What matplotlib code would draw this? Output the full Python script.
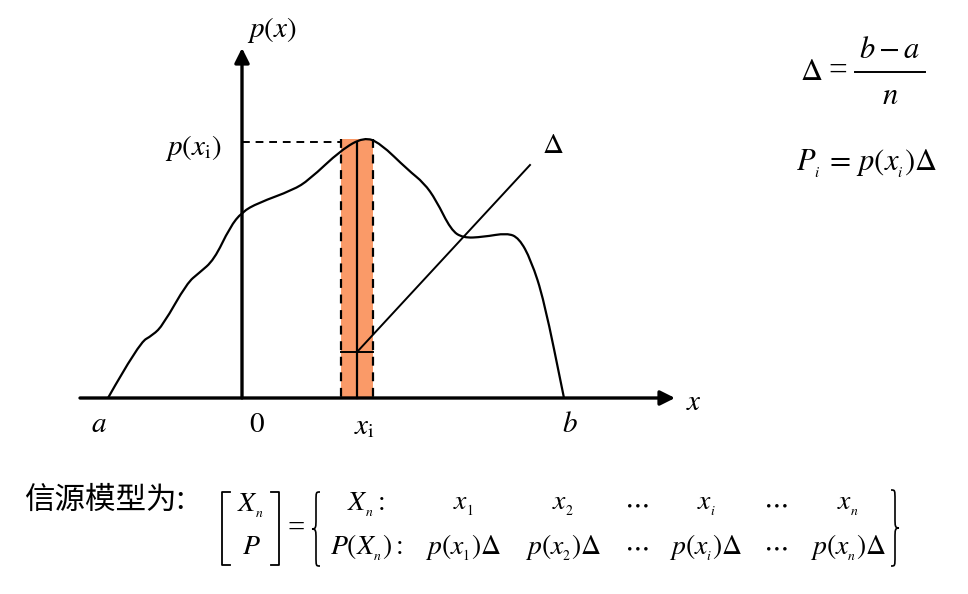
import matplotlib
matplotlib.use("Agg")
import matplotlib.pyplot as plt
from matplotlib.path import Path
from matplotlib.patches import PathPatch, Rectangle

plt.rcParams['mathtext.fontset'] = 'stix'
plt.rcParams['font.family'] = ['Liberation Serif', 'DejaVu Sans']

# density curve (pixel coords, y downwards)
curve_x = [108, 139, 153, 163, 187, 199, 214, 230, 242, 258, 293, 309, 341, 364,
           380, 408, 424, 436, 451, 463, 483, 507, 519, 531, 544, 564]
curve_y = [398, 343, 335, 325, 283, 273, 260, 227, 212, 203, 190, 180, 150, 137,
           143, 170, 183, 200, 230, 238, 237, 233, 238, 260, 300, 398]

# axis positions
x_axis = (80, 675, 398)      # x start, x end (tip), y
y_axis = (242, 398, 48)      # x, y start, y end (tip)

# the strip around x_i
strip_left, strip_right, strip_top = 341, 373, 139
xi_pos, pxi_level, delta_level = 357, 142, 352
delta_line_end = (530, 165)

labels = [
    (r'$p(x)$', 272, 30, 21),
    (r'$p(x_{\mathrm{i}})$', 193, 148, 21),
    (r'$a$', 99, 425, 21),
    (r'$0$', 257, 425, 21),
    (r'$x_{\mathrm{i}}$', 364, 427, 21),
    (r'$b$', 570, 425, 21),
    (r'$x$', 694, 403, 21),
    (r'$\Delta$', 553, 146, 21),
]

row1 = [r'$X_{_n}:$', r'$x_{_1}$', r'$x_{_2}$', r'$\cdots$', r'$x_{_i}$', r'$\cdots$', r'$x_{_n}$']
row2 = [r'$P(X_{_n}):$', r'$p(x_{_1})\Delta$', r'$p(x_{_2})\Delta$', r'$\cdots$',
        r'$p(x_{_i})\Delta$', r'$\cdots$', r'$p(x_{_n})\Delta$']
col_x = [366, 463, 563, 636, 706, 775, 848]


def brace(ax, x, y0, y1, w, right=False):
    # curly brace drawn as a path; w is the reach of the tip / ends
    s = 1 if right else -1
    ym = (y0 + y1) / 2
    xe = x - s * w      # ends
    xt = x + s * w      # middle tip
    verts = [(xe, y0),
             (x, y0), (x, y0), (x, y0 + 10),
             (x, ym - 10),
             (x, ym - 2), (x, ym), (xt, ym),
             (x, ym), (x, ym + 2), (x, ym + 10),
             (x, y1 - 10),
             (x, y1), (x, y1), (xe, y1)]
    codes = [Path.MOVETO,
             Path.CURVE4, Path.CURVE4, Path.CURVE4,
             Path.LINETO,
             Path.CURVE4, Path.CURVE4, Path.CURVE4,
             Path.CURVE4, Path.CURVE4, Path.CURVE4,
             Path.LINETO,
             Path.CURVE4, Path.CURVE4, Path.CURVE4]
    ax.add_patch(PathPatch(Path(verts, codes), facecolor='none', edgecolor='black', lw=1.2))


fig = plt.figure(figsize=(9.68, 5.94), dpi=100)
ax = fig.add_axes([0, 0, 1, 1])
ax.set_xlim(0, 968)
ax.set_ylim(594, 0)
ax.axis('off')

# orange strip
ax.add_patch(Rectangle((strip_left, strip_top), strip_right - strip_left, x_axis[2] - strip_top,
                       facecolor='#FA9A68', edgecolor='none', zorder=1))
ax.plot([strip_left, strip_left], [strip_top, x_axis[2]], color='black', lw=1.6, ls=(0, (4, 3)), zorder=2)
ax.plot([strip_right, strip_right], [strip_top, x_axis[2]], color='black', lw=1.6, ls=(0, (4, 3)), zorder=2)
ax.plot([xi_pos, xi_pos], [pxi_level, x_axis[2]], color='black', lw=1.6, zorder=2)
ax.plot([y_axis[0], strip_left], [pxi_level, pxi_level], color='black', lw=1.4, ls=(0, (4, 3)), zorder=2)
ax.plot([strip_left, strip_right], [delta_level, delta_level], color='black', lw=1.4, zorder=2)
ax.plot([xi_pos, delta_line_end[0]], [delta_level, delta_line_end[1]], color='black', lw=1.4, zorder=2)

# smooth curve through read points (quadratic bezier via midpoints)
verts = [(curve_x[0], curve_y[0])]
codes = [Path.MOVETO]
for i in range(1, len(curve_x) - 1):
    mx = (curve_x[i] + curve_x[i + 1]) / 2
    my = (curve_y[i] + curve_y[i + 1]) / 2
    verts += [(curve_x[i], curve_y[i]), (mx, my)]
    codes += [Path.CURVE3, Path.CURVE3]
verts.append((curve_x[-1], curve_y[-1]))
codes.append(Path.LINETO)
ax.add_patch(PathPatch(Path(verts, codes), facecolor='none', edgecolor='black', lw=1.6, zorder=3))

# axes with arrows
ax.annotate('', xy=(x_axis[1], x_axis[2]), xytext=(x_axis[0], x_axis[2]),
            arrowprops=dict(arrowstyle='-|>', lw=2.4, color='black', mutation_scale=22, shrinkA=0, shrinkB=0), zorder=4)
ax.annotate('', xy=(y_axis[0], y_axis[2]), xytext=(y_axis[0], y_axis[1]),
            arrowprops=dict(arrowstyle='-|>', lw=2.4, color='black', mutation_scale=22, shrinkA=0, shrinkB=0), zorder=4)

for txt, x, y, fs in labels:
    ax.text(x, y, txt, fontsize=fs, ha='center', va='center')

# formulas on the right
ax.text(811, 72, r'$\Delta$', fontsize=22, ha='center', va='center')
ax.text(838, 71, '=', fontsize=24, ha='center', va='center')
ax.plot([855, 925], [72, 72], color='black', lw=1.4)
ax.text(890, 50, r'$b-a$', fontsize=22, ha='center', va='center')
ax.text(890, 97, r'$n$', fontsize=22, ha='center', va='center')
ax.text(867, 164, r'$P_{_i}\,=\,p(x_{_i})\Delta$', fontsize=22, ha='center', va='center')

# source model
ax.text(24, 500, '信源模型为:', fontsize=22, ha='left', va='center',
        family=['Noto Sans CJK SC', 'DejaVu Sans'])

ax.plot([230, 222, 222, 230], [492, 492, 565, 565], color='black', lw=1.3)
ax.plot([271, 279, 279, 271], [492, 492, 565, 565], color='black', lw=1.3)
ax.text(250, 506, r'$X_{_n}$', fontsize=20, ha='center', va='center')
ax.text(251, 548, r'$P$', fontsize=20, ha='center', va='center')
ax.text(296, 529, '=', fontsize=22, ha='center', va='center')
brace(ax, 316, 492, 566, 4)
brace(ax, 895, 490, 566, 4, right=True)

for t, x in zip(row1, col_x):
    ax.text(x, 505, t, fontsize=20, ha='center', va='center')
for t, x in zip(row2, col_x):
    ax.text(x, 548, t, fontsize=20, ha='center', va='center')

fig.savefig('out.png', dpi=100)
